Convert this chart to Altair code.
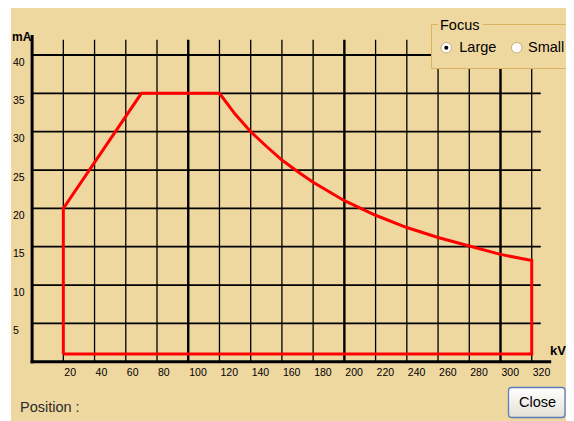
import altair as alt
import pandas as pd

# ---- data ----
kv_ticks = [20, 40, 60, 80, 100, 120, 140, 160, 180, 200, 220, 240, 260, 280, 300, 320]
ma_ticks = [5, 10, 15, 20, 25, 30, 35, 40]
curve_kv = [20, 20, 70, 120, 130, 140, 150, 160, 170, 180, 200, 220, 240, 260, 280, 300, 320, 320, 20]
curve_ma = [1.0, 20.0, 35.0, 35.0, 32.3, 30.0, 28.1, 26.3, 24.8, 23.4, 21.0, 19.1, 17.5, 16.2, 15.1, 14.0, 13.2, 1.0, 1.0]
focus_options = ["Large", "Small"]

FONT = "Liberation Sans"
BG = "#efd7a0"
BOX = "#d8b45e"
W, H = 558, 413

# kV 0 -> 24.1 px, 1.5613 px per kV ; mA 0 -> 353.7 px, 7.667 px per mA (plot-area pixels)
xs = alt.Scale(domain=[-15.44, 341.95], nice=False, zero=False)
ys = alt.Scale(domain=[-7.73, 46.13], nice=False, zero=False)

kv_df = pd.DataFrame({"kv": kv_ticks})
ma_df = pd.DataFrame({"ma": ma_ticks})
curve_df = pd.DataFrame({"kv": curve_kv, "ma": curve_ma, "i": list(range(len(curve_kv)))})
one = pd.DataFrame({"a": [0]})


def XF(f):
    return alt.X(f, scale=xs, axis=None)


def YF(f):
    return alt.Y(f, scale=ys, axis=None)


def XD(v):
    return alt.XDatum(v, scale=xs, axis=None)


def YD(v):
    return alt.YDatum(v, scale=ys, axis=None)


left_strip = alt.Chart(one).mark_rect(fill="white").encode(
    x=alt.value(0), x2=alt.value(3), y=alt.value(0), y2=alt.value(H))

vgrid_thin = alt.Chart(kv_df).transform_filter("datum.kv % 100 != 0").mark_rule(
    color="black", strokeWidth=1.3).encode(x=XF("kv:Q"), y=YD(0), y2=alt.Y2Datum(42.0))

vgrid_thick = alt.Chart(kv_df).transform_filter("datum.kv % 100 == 0").mark_rule(
    color="black", strokeWidth=2.4).encode(x=XF("kv:Q"), y=YD(0), y2=alt.Y2Datum(42.0))

hgrid = alt.Chart(ma_df).mark_rule(color="black", strokeWidth=1.8).encode(
    y=YF("ma:Q"), x=XD(0), x2=alt.X2Datum(325.8))

yaxis = alt.Chart(one).mark_rule(color="black", strokeWidth=3, strokeCap="square").encode(
    x=XD(0), y=YD(0), y2=alt.Y2Datum(42.4))
xaxis = alt.Chart(one).mark_rule(color="black", strokeWidth=3, strokeCap="square").encode(
    y=YD(0), x=XD(0), x2=alt.X2Datum(331.5))

curve = alt.Chart(curve_df).mark_line(color="#ff0000", strokeWidth=3, strokeJoin="miter").encode(
    x=XF("kv:Q"), y=YF("ma:Q"), order="i:Q")

xlabels = alt.Chart(kv_df).mark_text(
    align="left", baseline="middle", dx=1, dy=11, fontSize=10.5, font=FONT, color="black").encode(
    x=XF("kv:Q"), y=YD(0), text="kv:Q")

ylabels = alt.Chart(ma_df).mark_text(
    align="left", baseline="middle", dy=7.5, fontSize=10.5, font=FONT, color="black").encode(
    x=alt.value(5), y=YF("ma:Q"), text="ma:Q")

ma_title = alt.Chart(one).mark_text(
    text="mA", align="left", baseline="middle", fontSize=12, fontWeight="bold", font=FONT,
    color="black").encode(x=alt.value(4), y=alt.value(29))

kv_title = alt.Chart(one).mark_text(
    text="kV", align="left", baseline="middle", fontSize=13, fontWeight="bold", font=FONT,
    color="black").encode(x=alt.value(542), y=alt.value(343))

position = alt.Chart(one).mark_text(
    text="Position :", align="left", baseline="middle", fontSize=14.5, font=FONT,
    color="#2a2a2a").encode(x=alt.value(12), y=alt.value(400))

# Close button
grad = alt.Gradient(
    gradient="linear",
    stops=[alt.GradientStop(color="#ffffff", offset=0), alt.GradientStop(color="#e2e0d6", offset=1)],
    x1=0, x2=0, y1=0, y2=1)
button = alt.Chart(one).mark_rect(
    fill=grad, stroke="#5b7db8", strokeWidth=1.3, cornerRadius=3).encode(
    x=alt.value(500.5), x2=alt.value(557), y=alt.value(379.5), y2=alt.value(409.5))
button_text = alt.Chart(one).mark_text(
    text="Close", align="center", baseline="middle", fontSize=14.5, font=FONT, color="black").encode(
    x=alt.value(529.5), y=alt.value(395))

# Focus group box (open on the right, as in the reference)
box = alt.Chart(one).mark_rect(fill=BG, strokeWidth=0).encode(
    x=alt.value(423.5), x2=alt.value(W), y=alt.value(16.5), y2=alt.value(60.5))
box_top = alt.Chart(one).mark_rule(color=BOX, strokeWidth=1).encode(
    x=alt.value(423.5), x2=alt.value(W), y=alt.value(16.5))
box_bottom = alt.Chart(one).mark_rule(color=BOX, strokeWidth=1).encode(
    x=alt.value(423.5), x2=alt.value(W), y=alt.value(60.5))
box_left = alt.Chart(one).mark_rule(color=BOX, strokeWidth=1).encode(
    x=alt.value(423.5), y=alt.value(16.5), y2=alt.value(60.5))
box_gap = alt.Chart(one).mark_rect(fill=BG).encode(
    x=alt.value(430), x2=alt.value(475), y=alt.value(12), y2=alt.value(21))
box_title = alt.Chart(one).mark_text(
    text="Focus", align="left", baseline="middle", fontSize=14.5, font=FONT, color="black").encode(
    x=alt.value(432), y=alt.value(18))

radio_df = pd.DataFrame({"opt": focus_options, "cx": [438.3, 508.7], "tx": [451.3, 520.0]})
radios = alt.Chart(radio_df).mark_point(
    shape="circle", filled=True, fill="white", stroke="#c4ad78", strokeWidth=1, size=110, opacity=1).encode(
    x=alt.X("cx:Q", scale=None, axis=None), y=alt.value(39.7))
radio_dot = alt.Chart(radio_df).transform_filter("datum.opt == 'Large'").mark_point(
    shape="circle", filled=True, fill="black", size=16, opacity=1, strokeWidth=0).encode(
    x=alt.X("cx:Q", scale=None, axis=None), y=alt.value(39.7))
radio_text = alt.Chart(radio_df).mark_text(
    align="left", baseline="middle", fontSize=14.5, font=FONT, color="black").encode(
    x=alt.X("tx:Q", scale=None, axis=None), y=alt.value(39.7), text="opt:N")

chart = alt.layer(
    left_strip, vgrid_thin, vgrid_thick, hgrid, yaxis, xaxis, curve,
    xlabels, ylabels, ma_title, kv_title, position,
    button, button_text, box, box_top, box_bottom, box_left, box_gap, box_title,
    radios, radio_dot, radio_text,
).resolve_scale(x="independent").properties(
    width=W, height=H, background=BG, padding=0, autosize="none"
).configure_view(strokeWidth=0)

chart.save("out.html", embed_options={"renderer": "svg", "actions": False})
